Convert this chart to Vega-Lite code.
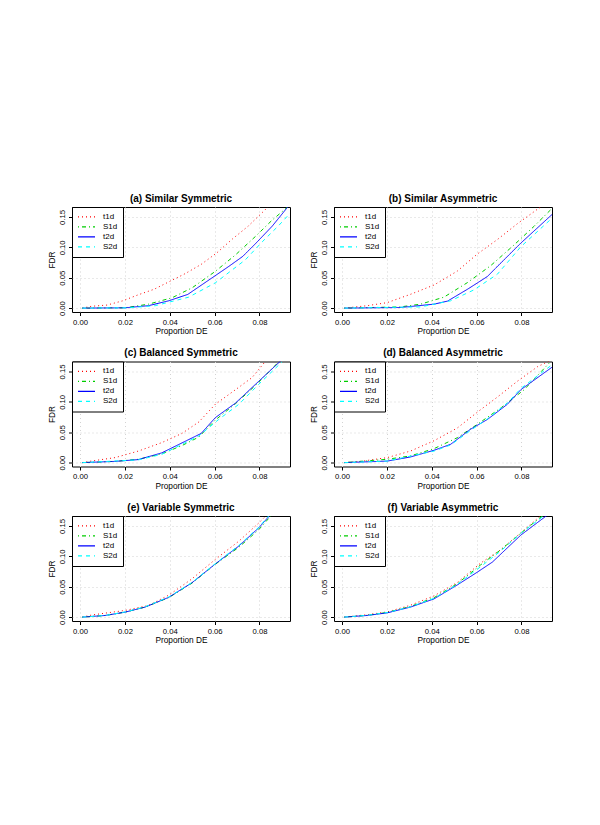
{
  "$schema": "https://vega.github.io/schema/vega-lite/v6.json",
  "background": "white",
  "padding": {"left": 46, "top": 193, "right": 5, "bottom": 5},
  "datasets": {
    "d": [
      {"p":"a","s":"t1d","x":0.001,"y":0},{"p":"a","s":"t1d","x":0.005,"y":0.003},{"p":"a","s":"t1d","x":0.012,"y":0.005},{"p":"a","s":"t1d","x":0.019,"y":0.012},{"p":"a","s":"t1d","x":0.026,"y":0.022},{"p":"a","s":"t1d","x":0.033,"y":0.031},{"p":"a","s":"t1d","x":0.040,"y":0.044},{"p":"a","s":"t1d","x":0.047,"y":0.057},{"p":"a","s":"t1d","x":0.054,"y":0.072},{"p":"a","s":"t1d","x":0.061,"y":0.091},{"p":"a","s":"t1d","x":0.068,"y":0.114},{"p":"a","s":"t1d","x":0.075,"y":0.135},{"p":"a","s":"t1d","x":0.082,"y":0.160},{"p":"a","s":"t1d","x":0.087,"y":0.178},
      {"p":"a","s":"S1d","x":0.001,"y":0},{"p":"a","s":"S1d","x":0.020,"y":0.0005},{"p":"a","s":"S1d","x":0.0305,"y":0.0065},{"p":"a","s":"S1d","x":0.041,"y":0.017},{"p":"a","s":"S1d","x":0.050,"y":0.0335},{"p":"a","s":"S1d","x":0.0603,"y":0.0605},{"p":"a","s":"S1d","x":0.0693,"y":0.0876},{"p":"a","s":"S1d","x":0.0782,"y":0.118},{"p":"a","s":"S1d","x":0.0857,"y":0.145},{"p":"a","s":"S1d","x":0.0924,"y":0.166},
      {"p":"a","s":"t2d","x":0.001,"y":0},{"p":"a","s":"t2d","x":0.020,"y":0.0005},{"p":"a","s":"t2d","x":0.0305,"y":0.004},{"p":"a","s":"t2d","x":0.0395,"y":0.012},{"p":"a","s":"t2d","x":0.048,"y":0.0225},{"p":"a","s":"t2d","x":0.0663,"y":0.0686},{"p":"a","s":"t2d","x":0.0725,"y":0.085},{"p":"a","s":"t2d","x":0.0782,"y":0.106},{"p":"a","s":"t2d","x":0.0857,"y":0.135},{"p":"a","s":"t2d","x":0.0926,"y":0.1665},
      {"p":"a","s":"S2d","x":0.001,"y":0},{"p":"a","s":"S2d","x":0.022,"y":0.0005},{"p":"a","s":"S2d","x":0.0335,"y":0.004},{"p":"a","s":"S2d","x":0.0484,"y":0.018},{"p":"a","s":"S2d","x":0.0603,"y":0.0416},{"p":"a","s":"S2d","x":0.0737,"y":0.0795},{"p":"a","s":"S2d","x":0.0812,"y":0.109},{"p":"a","s":"S2d","x":0.0886,"y":0.136},{"p":"a","s":"S2d","x":0.0936,"y":0.156},

      {"p":"b","s":"t1d","x":0.001,"y":0},{"p":"b","s":"t1d","x":0.0112,"y":0.004},{"p":"b","s":"t1d","x":0.0201,"y":0.009},{"p":"b","s":"t1d","x":0.0305,"y":0.0227},{"p":"b","s":"t1d","x":0.041,"y":0.038},{"p":"b","s":"t1d","x":0.0514,"y":0.061},{"p":"b","s":"t1d","x":0.0603,"y":0.089},{"p":"b","s":"t1d","x":0.0693,"y":0.113},{"p":"b","s":"t1d","x":0.0782,"y":0.139},{"p":"b","s":"t1d","x":0.0872,"y":0.163},{"p":"b","s":"t1d","x":0.092,"y":0.175},
      {"p":"b","s":"S1d","x":0.001,"y":0},{"p":"b","s":"S1d","x":0.026,"y":0.002},{"p":"b","s":"S1d","x":0.035,"y":0.0065},{"p":"b","s":"S1d","x":0.0454,"y":0.018},{"p":"b","s":"S1d","x":0.0559,"y":0.042},{"p":"b","s":"S1d","x":0.0663,"y":0.070},{"p":"b","s":"S1d","x":0.0767,"y":0.104},{"p":"b","s":"S1d","x":0.0857,"y":0.135},{"p":"b","s":"S1d","x":0.0936,"y":0.164},
      {"p":"b","s":"t2d","x":0.001,"y":0},{"p":"b","s":"t2d","x":0.026,"y":0.001},{"p":"b","s":"t2d","x":0.041,"y":0.0065},{"p":"b","s":"t2d","x":0.047,"y":0.0115},{"p":"b","s":"t2d","x":0.0559,"y":0.031},{"p":"b","s":"t2d","x":0.0648,"y":0.052},{"p":"b","s":"t2d","x":0.068,"y":0.064},{"p":"b","s":"t2d","x":0.0797,"y":0.107},{"p":"b","s":"t2d","x":0.0936,"y":0.154},
      {"p":"b","s":"S2d","x":0.001,"y":0},{"p":"b","s":"S2d","x":0.035,"y":0.002},{"p":"b","s":"S2d","x":0.0484,"y":0.012},{"p":"b","s":"S2d","x":0.0588,"y":0.030},{"p":"b","s":"S2d","x":0.0693,"y":0.056},{"p":"b","s":"S2d","x":0.0797,"y":0.101},{"p":"b","s":"S2d","x":0.0936,"y":0.148},

      {"p":"c","s":"t1d","x":0.001,"y":0},{"p":"c","s":"t1d","x":0.0052,"y":0.0027},{"p":"c","s":"t1d","x":0.0156,"y":0.0082},{"p":"c","s":"t1d","x":0.026,"y":0.019},{"p":"c","s":"t1d","x":0.0365,"y":0.033},{"p":"c","s":"t1d","x":0.0454,"y":0.048},{"p":"c","s":"t1d","x":0.053,"y":0.067},{"p":"c","s":"t1d","x":0.0603,"y":0.096},{"p":"c","s":"t1d","x":0.0693,"y":0.120},{"p":"c","s":"t1d","x":0.0767,"y":0.140},{"p":"c","s":"t1d","x":0.0827,"y":0.167},
      {"p":"c","s":"S1d","x":0.001,"y":0},{"p":"c","s":"S1d","x":0.0156,"y":0.002},{"p":"c","s":"S1d","x":0.026,"y":0.0055},{"p":"c","s":"S1d","x":0.0365,"y":0.0145},{"p":"c","s":"S1d","x":0.0454,"y":0.028},{"p":"c","s":"S1d","x":0.0529,"y":0.042},{"p":"c","s":"S1d","x":0.0603,"y":0.070},{"p":"c","s":"S1d","x":0.0693,"y":0.097},{"p":"c","s":"S1d","x":0.0782,"y":0.127},{"p":"c","s":"S1d","x":0.0886,"y":0.166},
      {"p":"c","s":"t2d","x":0.001,"y":0},{"p":"c","s":"t2d","x":0.0156,"y":0.002},{"p":"c","s":"t2d","x":0.026,"y":0.005},{"p":"c","s":"t2d","x":0.0364,"y":0.016},{"p":"c","s":"t2d","x":0.054,"y":0.048},{"p":"c","s":"t2d","x":0.0603,"y":0.074},{"p":"c","s":"t2d","x":0.0693,"y":0.098},{"p":"c","s":"t2d","x":0.0797,"y":0.134},{"p":"c","s":"t2d","x":0.0896,"y":0.168},
      {"p":"c","s":"S2d","x":0.001,"y":0},{"p":"c","s":"S2d","x":0.026,"y":0.0045},{"p":"c","s":"S2d","x":0.0365,"y":0.0137},{"p":"c","s":"S2d","x":0.0529,"y":0.0437},{"p":"c","s":"S2d","x":0.0618,"y":0.071},{"p":"c","s":"S2d","x":0.0708,"y":0.096},{"p":"c","s":"S2d","x":0.0797,"y":0.129},{"p":"c","s":"S2d","x":0.0901,"y":0.166},

      {"p":"d","s":"t1d","x":0.001,"y":0},{"p":"d","s":"t1d","x":0.0082,"y":0.002},{"p":"d","s":"t1d","x":0.0201,"y":0.0082},{"p":"d","s":"t1d","x":0.0305,"y":0.019},{"p":"d","s":"t1d","x":0.041,"y":0.036},{"p":"d","s":"t1d","x":0.0514,"y":0.057},{"p":"d","s":"t1d","x":0.0603,"y":0.083},{"p":"d","s":"t1d","x":0.0693,"y":0.108},{"p":"d","s":"t1d","x":0.0782,"y":0.134},{"p":"d","s":"t1d","x":0.0872,"y":0.158},{"p":"d","s":"t1d","x":0.0929,"y":0.168},
      {"p":"d","s":"S1d","x":0.001,"y":0},{"p":"d","s":"S1d","x":0.0201,"y":0.0055},{"p":"d","s":"S1d","x":0.0305,"y":0.011},{"p":"d","s":"S1d","x":0.041,"y":0.023},{"p":"d","s":"S1d","x":0.0514,"y":0.041},{"p":"d","s":"S1d","x":0.0603,"y":0.063},{"p":"d","s":"S1d","x":0.0708,"y":0.090},{"p":"d","s":"S1d","x":0.0812,"y":0.120},{"p":"d","s":"S1d","x":0.0924,"y":0.164},
      {"p":"d","s":"t2d","x":0.001,"y":0},{"p":"d","s":"t2d","x":0.0201,"y":0.0025},{"p":"d","s":"t2d","x":0.0305,"y":0.0093},{"p":"d","s":"t2d","x":0.041,"y":0.0203},{"p":"d","s":"t2d","x":0.0484,"y":0.0301},{"p":"d","s":"t2d","x":0.0573,"y":0.055},{"p":"d","s":"t2d","x":0.0648,"y":0.071},{"p":"d","s":"t2d","x":0.0737,"y":0.096},{"p":"d","s":"t2d","x":0.0797,"y":0.120},{"p":"d","s":"t2d","x":0.0936,"y":0.157},
      {"p":"d","s":"S2d","x":0.001,"y":0},{"p":"d","s":"S2d","x":0.0201,"y":0.0025},{"p":"d","s":"S2d","x":0.041,"y":0.019},{"p":"d","s":"S2d","x":0.0484,"y":0.029},{"p":"d","s":"S2d","x":0.0573,"y":0.053},{"p":"d","s":"S2d","x":0.0648,"y":0.072},{"p":"d","s":"S2d","x":0.0737,"y":0.098},{"p":"d","s":"S2d","x":0.0797,"y":0.122},{"p":"d","s":"S2d","x":0.0936,"y":0.161},

      {"p":"e","s":"t1d","x":0.001,"y":0},{"p":"e","s":"t1d","x":0.0052,"y":0.0035},{"p":"e","s":"t1d","x":0.0201,"y":0.011},{"p":"e","s":"t1d","x":0.0305,"y":0.0192},{"p":"e","s":"t1d","x":0.0395,"y":0.036},{"p":"e","s":"t1d","x":0.0499,"y":0.063},{"p":"e","s":"t1d","x":0.0603,"y":0.095},{"p":"e","s":"t1d","x":0.0708,"y":0.125},{"p":"e","s":"t1d","x":0.0797,"y":0.155},{"p":"e","s":"t1d","x":0.0827,"y":0.166},
      {"p":"e","s":"S1d","x":0.001,"y":0},{"p":"e","s":"S1d","x":0.0112,"y":0.0027},{"p":"e","s":"S1d","x":0.0201,"y":0.0082},{"p":"e","s":"S1d","x":0.029,"y":0.0165},{"p":"e","s":"S1d","x":0.0395,"y":0.032},{"p":"e","s":"S1d","x":0.0499,"y":0.056},{"p":"e","s":"S1d","x":0.0603,"y":0.087},{"p":"e","s":"S1d","x":0.0708,"y":0.115},{"p":"e","s":"S1d","x":0.0797,"y":0.144},{"p":"e","s":"S1d","x":0.0852,"y":0.167},
      {"p":"e","s":"t2d","x":0.001,"y":0},{"p":"e","s":"t2d","x":0.0112,"y":0.0027},{"p":"e","s":"t2d","x":0.0201,"y":0.0082},{"p":"e","s":"t2d","x":0.029,"y":0.0165},{"p":"e","s":"t2d","x":0.0395,"y":0.0325},{"p":"e","s":"t2d","x":0.0499,"y":0.0566},{"p":"e","s":"t2d","x":0.0603,"y":0.0875},{"p":"e","s":"t2d","x":0.0708,"y":0.117},{"p":"e","s":"t2d","x":0.0797,"y":0.147},{"p":"e","s":"t2d","x":0.0844,"y":0.1665},
      {"p":"e","s":"S2d","x":0.001,"y":0},{"p":"e","s":"S2d","x":0.0112,"y":0.0027},{"p":"e","s":"S2d","x":0.0201,"y":0.0085},{"p":"e","s":"S2d","x":0.029,"y":0.017},{"p":"e","s":"S2d","x":0.0395,"y":0.033},{"p":"e","s":"S2d","x":0.0499,"y":0.057},{"p":"e","s":"S2d","x":0.0603,"y":0.088},{"p":"e","s":"S2d","x":0.0708,"y":0.118},{"p":"e","s":"S2d","x":0.0797,"y":0.148},{"p":"e","s":"S2d","x":0.0842,"y":0.167},

      {"p":"f","s":"t1d","x":0.001,"y":0},{"p":"f","s":"t1d","x":0.0112,"y":0.004},{"p":"f","s":"t1d","x":0.0201,"y":0.0085},{"p":"f","s":"t1d","x":0.0305,"y":0.0195},{"p":"f","s":"t1d","x":0.041,"y":0.035},{"p":"f","s":"t1d","x":0.0514,"y":0.057},{"p":"f","s":"t1d","x":0.0618,"y":0.089},{"p":"f","s":"t1d","x":0.0708,"y":0.111},{"p":"f","s":"t1d","x":0.0797,"y":0.139},{"p":"f","s":"t1d","x":0.0886,"y":0.167},
      {"p":"f","s":"S1d","x":0.001,"y":0},{"p":"f","s":"S1d","x":0.0112,"y":0.003},{"p":"f","s":"S1d","x":0.0201,"y":0.0077},{"p":"f","s":"S1d","x":0.0305,"y":0.0175},{"p":"f","s":"S1d","x":0.041,"y":0.032},{"p":"f","s":"S1d","x":0.0514,"y":0.055},{"p":"f","s":"S1d","x":0.0618,"y":0.086},{"p":"f","s":"S1d","x":0.0708,"y":0.111},{"p":"f","s":"S1d","x":0.0797,"y":0.138},{"p":"f","s":"S1d","x":0.0894,"y":0.167},
      {"p":"f","s":"t2d","x":0.001,"y":0},{"p":"f","s":"t2d","x":0.0112,"y":0.0027},{"p":"f","s":"t2d","x":0.0201,"y":0.007},{"p":"f","s":"t2d","x":0.0305,"y":0.0165},{"p":"f","s":"t2d","x":0.041,"y":0.030},{"p":"f","s":"t2d","x":0.0514,"y":0.053},{"p":"f","s":"t2d","x":0.0603,"y":0.074},{"p":"f","s":"t2d","x":0.067,"y":0.0905},{"p":"f","s":"t2d","x":0.0797,"y":0.135},{"p":"f","s":"t2d","x":0.0914,"y":0.1675},
      {"p":"f","s":"S2d","x":0.001,"y":0},{"p":"f","s":"S2d","x":0.0112,"y":0.003},{"p":"f","s":"S2d","x":0.0201,"y":0.0075},{"p":"f","s":"S2d","x":0.0305,"y":0.017},{"p":"f","s":"S2d","x":0.041,"y":0.031},{"p":"f","s":"S2d","x":0.0514,"y":0.054},{"p":"f","s":"S2d","x":0.0618,"y":0.083},{"p":"f","s":"S2d","x":0.0708,"y":0.109},{"p":"f","s":"S2d","x":0.0797,"y":0.138},{"p":"f","s":"S2d","x":0.0901,"y":0.167}
    ]
  },
  "data": {"name": "d"},
  "columns": 2,
  "bounds": "flush",
  "spacing": {"column": 44, "row": 49.5},
  "resolve": {"scale": {"color": "independent", "strokeDash": "independent"}},
  "concat": [
    {"title": "(a) Similar Symmetric", "width": 218, "height": 105, "transform": [{"filter": "datum.p === 'a'"}],
     "mark": {"type": "line", "clip": true, "strokeWidth": 1},
     "encoding": {
       "x": {"field": "x", "type": "quantitative", "scale": {"domain": [-0.0036, 0.0936], "nice": false, "zero": false}, "axis": {"values": [0, 0.02, 0.04, 0.06, 0.08], "format": ".2f", "title": "Proportion DE"}},
       "y": {"field": "y", "type": "quantitative", "scale": {"domain": [-0.0064, 0.1664], "nice": false, "zero": false}, "axis": {"values": [0, 0.05, 0.1, 0.15], "format": ".2f", "title": "FDR"}},
       "color": {"field": "s", "type": "nominal", "scale": {"domain": ["t1d", "S1d", "t2d", "S2d"], "range": ["#ff0000", "#00cd00", "#0000ff", "#00ffff"]}, "legend": {"title": null}},
       "strokeDash": {"field": "s", "type": "nominal", "scale": {"domain": ["t1d", "S1d", "t2d", "S2d"], "range": [[1, 3], [1, 3, 4, 3], [1, 0], [4, 4]]}, "legend": {"title": null}}
     }},
    {"title": "(b) Similar Asymmetric", "width": 218, "height": 105, "transform": [{"filter": "datum.p === 'b'"}],
     "mark": {"type": "line", "clip": true, "strokeWidth": 1},
     "encoding": {
       "x": {"field": "x", "type": "quantitative", "scale": {"domain": [-0.0036, 0.0936], "nice": false, "zero": false}, "axis": {"values": [0, 0.02, 0.04, 0.06, 0.08], "format": ".2f", "title": "Proportion DE"}},
       "y": {"field": "y", "type": "quantitative", "scale": {"domain": [-0.0064, 0.1664], "nice": false, "zero": false}, "axis": {"values": [0, 0.05, 0.1, 0.15], "format": ".2f", "title": "FDR"}},
       "color": {"field": "s", "type": "nominal", "scale": {"domain": ["t1d", "S1d", "t2d", "S2d"], "range": ["#ff0000", "#00cd00", "#0000ff", "#00ffff"]}, "legend": {"title": null}},
       "strokeDash": {"field": "s", "type": "nominal", "scale": {"domain": ["t1d", "S1d", "t2d", "S2d"], "range": [[1, 3], [1, 3, 4, 3], [1, 0], [4, 4]]}, "legend": {"title": null}}
     }},
    {"title": "(c) Balanced Symmetric", "width": 218, "height": 105, "transform": [{"filter": "datum.p === 'c'"}],
     "mark": {"type": "line", "clip": true, "strokeWidth": 1},
     "encoding": {
       "x": {"field": "x", "type": "quantitative", "scale": {"domain": [-0.0036, 0.0936], "nice": false, "zero": false}, "axis": {"values": [0, 0.02, 0.04, 0.06, 0.08], "format": ".2f", "title": "Proportion DE"}},
       "y": {"field": "y", "type": "quantitative", "scale": {"domain": [-0.0064, 0.1664], "nice": false, "zero": false}, "axis": {"values": [0, 0.05, 0.1, 0.15], "format": ".2f", "title": "FDR"}},
       "color": {"field": "s", "type": "nominal", "scale": {"domain": ["t1d", "S1d", "t2d", "S2d"], "range": ["#ff0000", "#00cd00", "#0000ff", "#00ffff"]}, "legend": {"title": null}},
       "strokeDash": {"field": "s", "type": "nominal", "scale": {"domain": ["t1d", "S1d", "t2d", "S2d"], "range": [[1, 3], [1, 3, 4, 3], [1, 0], [4, 4]]}, "legend": {"title": null}}
     }},
    {"title": "(d) Balanced Asymmetric", "width": 218, "height": 105, "transform": [{"filter": "datum.p === 'd'"}],
     "mark": {"type": "line", "clip": true, "strokeWidth": 1},
     "encoding": {
       "x": {"field": "x", "type": "quantitative", "scale": {"domain": [-0.0036, 0.0936], "nice": false, "zero": false}, "axis": {"values": [0, 0.02, 0.04, 0.06, 0.08], "format": ".2f", "title": "Proportion DE"}},
       "y": {"field": "y", "type": "quantitative", "scale": {"domain": [-0.0064, 0.1664], "nice": false, "zero": false}, "axis": {"values": [0, 0.05, 0.1, 0.15], "format": ".2f", "title": "FDR"}},
       "color": {"field": "s", "type": "nominal", "scale": {"domain": ["t1d", "S1d", "t2d", "S2d"], "range": ["#ff0000", "#00cd00", "#0000ff", "#00ffff"]}, "legend": {"title": null}},
       "strokeDash": {"field": "s", "type": "nominal", "scale": {"domain": ["t1d", "S1d", "t2d", "S2d"], "range": [[1, 3], [1, 3, 4, 3], [1, 0], [4, 4]]}, "legend": {"title": null}}
     }},
    {"title": "(e) Variable Symmetric", "width": 218, "height": 105, "transform": [{"filter": "datum.p === 'e'"}],
     "mark": {"type": "line", "clip": true, "strokeWidth": 1},
     "encoding": {
       "x": {"field": "x", "type": "quantitative", "scale": {"domain": [-0.0036, 0.0936], "nice": false, "zero": false}, "axis": {"values": [0, 0.02, 0.04, 0.06, 0.08], "format": ".2f", "title": "Proportion DE"}},
       "y": {"field": "y", "type": "quantitative", "scale": {"domain": [-0.0064, 0.1664], "nice": false, "zero": false}, "axis": {"values": [0, 0.05, 0.1, 0.15], "format": ".2f", "title": "FDR"}},
       "color": {"field": "s", "type": "nominal", "scale": {"domain": ["t1d", "S1d", "t2d", "S2d"], "range": ["#ff0000", "#00cd00", "#0000ff", "#00ffff"]}, "legend": {"title": null}},
       "strokeDash": {"field": "s", "type": "nominal", "scale": {"domain": ["t1d", "S1d", "t2d", "S2d"], "range": [[1, 3], [1, 3, 4, 3], [1, 0], [4, 4]]}, "legend": {"title": null}}
     }},
    {"title": "(f) Variable Asymmetric", "width": 218, "height": 105, "transform": [{"filter": "datum.p === 'f'"}],
     "mark": {"type": "line", "clip": true, "strokeWidth": 1},
     "encoding": {
       "x": {"field": "x", "type": "quantitative", "scale": {"domain": [-0.0036, 0.0936], "nice": false, "zero": false}, "axis": {"values": [0, 0.02, 0.04, 0.06, 0.08], "format": ".2f", "title": "Proportion DE"}},
       "y": {"field": "y", "type": "quantitative", "scale": {"domain": [-0.0064, 0.1664], "nice": false, "zero": false}, "axis": {"values": [0, 0.05, 0.1, 0.15], "format": ".2f", "title": "FDR"}},
       "color": {"field": "s", "type": "nominal", "scale": {"domain": ["t1d", "S1d", "t2d", "S2d"], "range": ["#ff0000", "#00cd00", "#0000ff", "#00ffff"]}, "legend": {"title": null}},
       "strokeDash": {"field": "s", "type": "nominal", "scale": {"domain": ["t1d", "S1d", "t2d", "S2d"], "range": [[1, 3], [1, 3, 4, 3], [1, 0], [4, 4]]}, "legend": {"title": null}}
     }}
  ],
  "config": {
    "font": "Liberation Sans",
    "view": {"stroke": "black", "strokeWidth": 1},
    "title": {"fontSize": 10, "fontWeight": "bold", "font": "Liberation Sans", "color": "black", "offset": 3, "anchor": "middle"},
    "axis": {"domain": false, "tickColor": "black", "tickSize": 3.5, "labelFont": "Liberation Sans", "labelFontSize": 7.7, "labelColor": "black", "labelFlush": false, "labelOverlap": false, "titleFont": "Liberation Sans", "titleFontSize": 8.3, "titleFontWeight": "normal", "titleColor": "black", "gridColor": "#d3d3d3", "gridDash": [1, 3], "gridWidth": 1, "labelPadding": 2.5, "titlePadding": 1},
    "axisY": {"labelAngle": -90, "labelAlign": "center", "labelBaseline": "bottom", "titlePadding": 2},
    "legend": {"orient": "top-left", "offset": 0, "strokeColor": "black", "fillColor": "white", "padding": 5, "symbolType": "stroke", "symbolSize": 289, "symbolStrokeWidth": 1.2, "clipHeight": 9.8, "rowPadding": 0, "labelOffset": 7, "labelFont": "Liberation Sans", "labelFontSize": 8, "labelColor": "black", "cornerRadius": 0}
  }
}
